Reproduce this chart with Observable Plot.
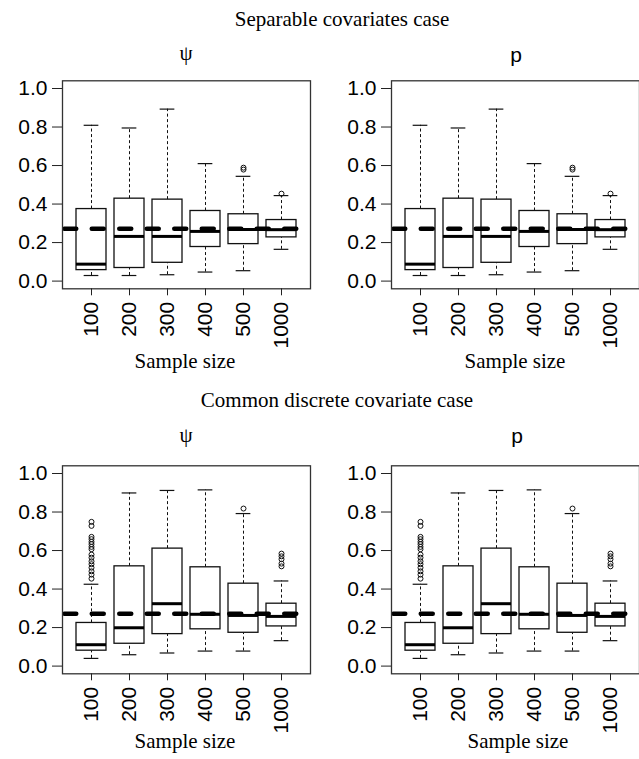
<!DOCTYPE html>
<html><head><meta charset="utf-8">
<script src="https://cdn.jsdelivr.net/npm/d3@7"></script>
<script src="https://cdn.jsdelivr.net/npm/@observablehq/plot@0.6"></script>
<style>
html,body{margin:0;padding:0;background:#fff;overflow:hidden}
#root{position:relative;width:639px;height:759px;overflow:hidden;background:#fff}
.t{position:absolute;white-space:nowrap;line-height:21px;font-size:21px;color:#000;transform:translateX(-50%)}
.serif{font-family:"Liberation Serif","Times New Roman",serif}
.sans{font-family:"Liberation Sans",Arial,sans-serif}
.panel{position:absolute}
</style></head><body><div id="root"></div>
<script>
// ---- data ----
const sizes = ["100", "200", "300", "400", "500", "1000"];
const yTicks = [0, 0.2, 0.4, 0.6, 0.8, 1.0];
const refValue = 0.272;

// Separable covariates case (psi and p panels identical)
const sepLow  = [0.029, 0.029, 0.033, 0.047, 0.054, 0.165];
const sepQ1   = [0.057, 0.068, 0.095, 0.177, 0.192, 0.227];
const sepMed  = [0.088, 0.232, 0.232, 0.258, 0.268, 0.267];
const sepQ3   = [0.374, 0.428, 0.423, 0.364, 0.347, 0.317];
const sepHigh = [0.809, 0.795, 0.893, 0.610, 0.544, 0.444];
const sepOut  = [[], [], [], [], [0.579, 0.589], [0.454]];

// Common discrete covariate case (psi and p panels identical)
const disLow  = [0.040, 0.059, 0.068, 0.078, 0.078, 0.132];
const disQ1   = [0.080, 0.116, 0.166, 0.191, 0.173, 0.206];
const disMed  = [0.111, 0.199, 0.324, 0.269, 0.263, 0.258];
const disQ3   = [0.224, 0.518, 0.610, 0.513, 0.428, 0.324];
const disHigh = [0.425, 0.899, 0.912, 0.915, 0.792, 0.442];
const disOut  = [
  [0.749, 0.728, 0.671, 0.659, 0.645, 0.633, 0.619, 0.607, 0.579, 0.563, 0.544, 0.529, 0.511, 0.492, 0.475, 0.454],
  [], [], [], [0.818], [0.584, 0.570, 0.555, 0.532, 0.518]
];

const caseTitles = ["Separable covariates case", "Common discrete covariate case"];
const panelTitles = ["ψ", "p"];
const xTitle = "Sample size";

// ---- drawing ----
const W = 312, H = 300, mL = 62, mR = 2, mT = 20.3, mB = 71.7;
const pInner = 0.2, pOuter = 0.34;
const step = (W - mL - mR) / (sizes.length - pInner + 2 * pOuter);
const capInset = step * (1 - pInner) / 4;

function panel(low, q1, med, q3, high, out) {
  const rows = sizes.map((s, i) => ({size: s, low: low[i], q1: q1[i], med: med[i], q3: q3[i], high: high[i]}));
  const outs = sizes.flatMap((s, i) => out[i].map(v => ({size: s, value: v})));
  return Plot.plot({
    width: W, height: H,
    marginLeft: mL, marginRight: mR, marginTop: mT, marginBottom: mB,
    style: {background: "transparent", overflow: "visible"},
    x: {type: "band", domain: sizes, paddingInner: pInner, paddingOuter: pOuter, label: null},
    y: {domain: [-0.04, 1.04], label: null},
    marks: [
      Plot.ruleX(rows, {x: "size", y1: "low", y2: "q1", stroke: "#111", strokeWidth: 1, strokeDasharray: "3,2.5"}),
      Plot.ruleX(rows, {x: "size", y1: "q3", y2: "high", stroke: "#111", strokeWidth: 1, strokeDasharray: "3,2.5"}),
      Plot.tickY(rows, {x: "size", y: "low", stroke: "#111", strokeWidth: 1.2, insetLeft: capInset, insetRight: capInset}),
      Plot.tickY(rows, {x: "size", y: "high", stroke: "#111", strokeWidth: 1.2, insetLeft: capInset, insetRight: capInset}),
      Plot.barY(rows, {x: "size", y1: "q1", y2: "q3", fill: "white", stroke: "#111", strokeWidth: 1.3}),
      Plot.tickY(rows, {x: "size", y: "med", stroke: "#000", strokeWidth: 3}),
      Plot.dot(outs, {x: "size", y: "value", r: 2.5, stroke: "#111", strokeWidth: 1, fill: "none"}),
      Plot.ruleY([refValue], {stroke: "#000", strokeWidth: 4.5, strokeDasharray: "12,15.5", strokeDashoffset: -2.25, strokeLinecap: "round"}),
      Plot.frame({stroke: "#333", strokeWidth: 1.3}),
      Plot.axisY({ticks: yTicks, tickFormat: d3.format(".1f"), tickSize: 10, tickPadding: 5, fontSize: 21,
                  fontFamily: "Liberation Sans, Arial, sans-serif", stroke: "#222", fill: "#000", label: null}),
      Plot.axisX({tickSize: 7, tickPadding: 6, tickRotate: -90, fontSize: 21,
                  fontFamily: "Liberation Sans, Arial, sans-serif", stroke: "#222", fill: "#000", label: null})
    ]
  });
}

const root = document.getElementById("root");
function place(el, left, top) {
  el.classList.add("panel");
  el.style.left = left + "px";
  el.style.top = top + "px";
  root.appendChild(el);
}
function label(text, cls, cx, top) {
  const d = document.createElement("div");
  d.className = "t " + cls;
  d.textContent = text;
  d.style.left = cx + "px";
  d.style.top = top + "px";
  root.appendChild(d);
}

place(panel(sepLow, sepQ1, sepMed, sepQ3, sepHigh, sepOut), 0, 60);
place(panel(sepLow, sepQ1, sepMed, sepQ3, sepHigh, sepOut), 329, 60);
place(panel(disLow, disQ1, disMed, disQ3, disHigh, disOut), 0, 445);
place(panel(disLow, disQ1, disMed, disQ3, disHigh, disOut), 329, 445);

label(caseTitles[0], "serif", 342, 9.1);
label(caseTitles[1], "serif", 337, 390.4);
label(panelTitles[0], "serif", 186, 42.8);
label(panelTitles[1], "sans", 516, 43.5);
label(panelTitles[0], "serif", 186, 424.8);
label(panelTitles[1], "sans", 517, 424.5);
label(xTitle, "serif", 185, 351.4);
label(xTitle, "serif", 515, 351.4);
label(xTitle, "serif", 185, 731.4);
label(xTitle, "serif", 518, 731.4);
</script></body></html>
